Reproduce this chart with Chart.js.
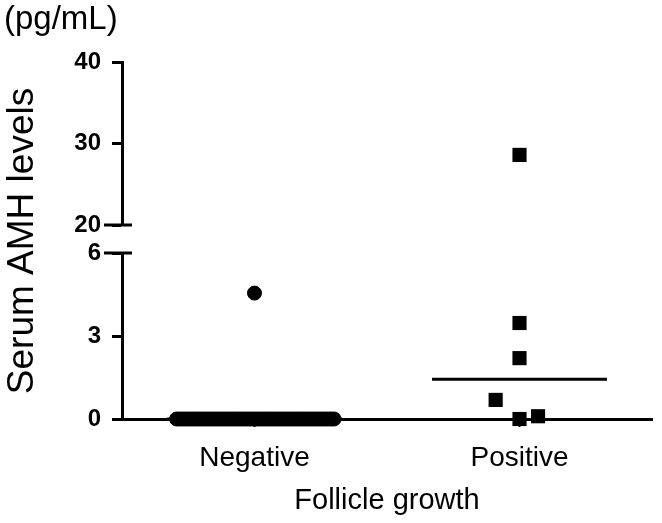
<!DOCTYPE html>
<html><head><meta charset="utf-8">
<script src="https://cdn.jsdelivr.net/npm/chart.js@4/dist/chart.umd.min.js"></script>
<style>
html,body{margin:0;padding:0;background:#fff;}
#wrap{position:relative;width:662px;height:523px;background:#fff;}
#wrap canvas{position:absolute;left:0;top:0;}
</style></head><body>
<div id="wrap"><canvas id="upper" width="662" height="523"></canvas><canvas id="lower" width="662" height="523"></canvas></div>
<script>
// ---- data ----
const categories = ['Negative', 'Positive'];
const xTitle = 'Follicle growth';
const yTitle = 'Serum AMH levels';
const yUnit = '(pg/mL)';
const upperTicks = [20, 30, 40];
const lowerTicks = [0, 3, 6];
// Negative group (x = jittered position around category 1)
const negativeX = [0.706, 0.717, 0.728, 0.739, 0.750, 0.761, 0.772, 0.783, 0.794, 0.805, 0.816, 0.827, 0.838, 0.849, 0.860, 0.871, 0.882, 0.893, 0.904, 0.915, 0.926, 0.937, 0.948, 0.959, 0.970, 0.981, 0.992, 1.003, 1.014, 1.025, 1.036, 1.047, 1.058, 1.069, 1.080, 1.091, 1.102, 1.113, 1.124, 1.135, 1.146, 1.157, 1.168, 1.179, 1.190, 1.201, 1.212, 1.223, 1.234, 1.245, 1.256, 1.267, 1.278, 1.289, 1.300, 1.000];
const negativeY = [0, 0, 0, 0, 0, 0, 0, 0, 0, 0, 0, 0, 0, 0, 0, 0, 0, 0, 0, 0, 0, 0, 0, 0, 0, 0, 0, 0, 0, 0, 0, 0, 0, 0, 0, 0, 0, 0, 0, 0, 0, 0, 0, 0, 0, 0, 0, 0, 0, 0, 0, 0, 0, 0, 0, 4.55];
// Positive group (x = jittered position around category 2)
const positiveX = [2.00, 2.00, 2.00, 1.91, 2.00, 2.07];
const positiveY = [28.6, 3.47, 2.2, 0.69, 0, 0.1];
// group medians
const medians = [0, 1.44];

// ---- helpers ----
const FONT = '"Liberation Sans", Arial, Helvetica, sans-serif';
Chart.defaults.font.family = FONT;
Chart.defaults.color = '#000';
const BREAK = 20; // values >= BREAK go to the upper segment
const toPts = (xs, ys) => xs.map((x, i) => ({x, y: ys[i]}));
const negPts = toPts(negativeX, negativeY);
const posPts = toPts(positiveX, positiveY);
const upperOf = pts => pts.filter(p => p.y >= BREAK);
const lowerOf = pts => pts.filter(p => p.y < BREAK);
const medianLines = medians.map((m, i) => [{x: i + 1 - 0.33, y: m}, {x: i + 1 + 0.33, y: m}]);

function breakMark(value) {
  return {
    id: 'break' + value,
    afterDraw(chart) {
      const ctx = chart.ctx, s = chart.scales.y, a = chart.chartArea;
      const y = s.getPixelForValue(value);
      ctx.save();
      ctx.strokeStyle = '#000'; ctx.lineWidth = 3;
      ctx.beginPath(); ctx.moveTo(a.left - 18, y); ctx.lineTo(a.left + 10, y); ctx.stroke();
      ctx.restore();
    }
  };
}
const textPlugin = {
  id: 'texts',
  afterDraw(chart) {
    const ctx = chart.ctx;
    ctx.save();
    ctx.fillStyle = '#000';
    ctx.font = '33px ' + FONT;
    ctx.textAlign = 'left'; ctx.textBaseline = 'middle';
    ctx.fillText(yUnit, 4, 20);
    ctx.translate(23, 241);
    ctx.rotate(-Math.PI / 2);
    ctx.font = '37px ' + FONT;
    ctx.textAlign = 'center';
    ctx.fillText(yTitle, 0, 0);
    ctx.restore();
  }
};

function yScale(min, max, ticks) {
  return {
    type: 'linear', min, max,
    afterFit(s) { s.width = 122; },
    afterBuildTicks(s) { s.ticks = ticks.map(v => ({value: v})); },
    border: {display: true, color: '#000', width: 3},
    grid: {drawOnChartArea: false, drawTicks: true, tickLength: 10, tickColor: '#000', tickWidth: 3},
    ticks: {color: '#000', font: {family: FONT, size: 24, weight: 'bold'}, padding: 11}
  };
}
const common = {
  responsive: false, animation: false, devicePixelRatio: 1,
  plugins: {legend: {display: false}, tooltip: {enabled: false}}
};
function sets(pickFn) {
  return [
    {data: pickFn(negPts), pointStyle: 'circle', pointRadius: 7, backgroundColor: '#000', borderColor: '#000', borderWidth: 1, showLine: false, clip: false},
    {data: pickFn(posPts), pointStyle: 'rect', pointRadius: 10, backgroundColor: '#000', borderColor: '#000', borderWidth: 0, showLine: false, clip: false}
  ];
}

new Chart(document.getElementById('upper'), {
  type: 'scatter',
  data: {datasets: sets(upperOf)},
  options: Object.assign({}, common, {
    layout: {padding: {left: 0, right: 5, top: 62, bottom: 298}},
    scales: {
      x: {type: 'linear', min: 0.5, max: 2.5, display: false},
      y: yScale(20, 40, upperTicks)
    }
  }),
  plugins: [breakMark(20)]
});

const lowerSets = sets(lowerOf).concat(medianLines.map(l => ({
  data: l, showLine: true, borderColor: '#000', borderWidth: 3, pointRadius: 0, clip: false
})));

new Chart(document.getElementById('lower'), {
  type: 'scatter',
  data: {datasets: lowerSets},
  options: Object.assign({}, common, {
    layout: {padding: {left: 0, right: 5, top: 253, bottom: 0}},
    scales: {
      x: {
        type: 'linear', min: 0.5, max: 2.5,
        afterBuildTicks(s) { s.ticks = categories.map((c, i) => ({value: i + 1})); },
        afterFit(s) { s.height = 104; },
        border: {display: true, color: '#000', width: 3},
        grid: {drawOnChartArea: false, drawTicks: true, tickLength: 8, tickColor: '#000', tickWidth: 2},
        ticks: {color: '#000', font: {family: FONT, size: 28}, padding: 14, autoSkip: false, maxRotation: 0,
          callback: v => categories[Math.round(v) - 1]},
        title: {display: true, text: xTitle, color: '#000', font: {family: FONT, size: 29}, padding: {top: 0, bottom: 5}}
      },
      y: yScale(0, 6, lowerTicks)
    }
  }),
  plugins: [breakMark(6), textPlugin]
});
</script>
</body></html>
